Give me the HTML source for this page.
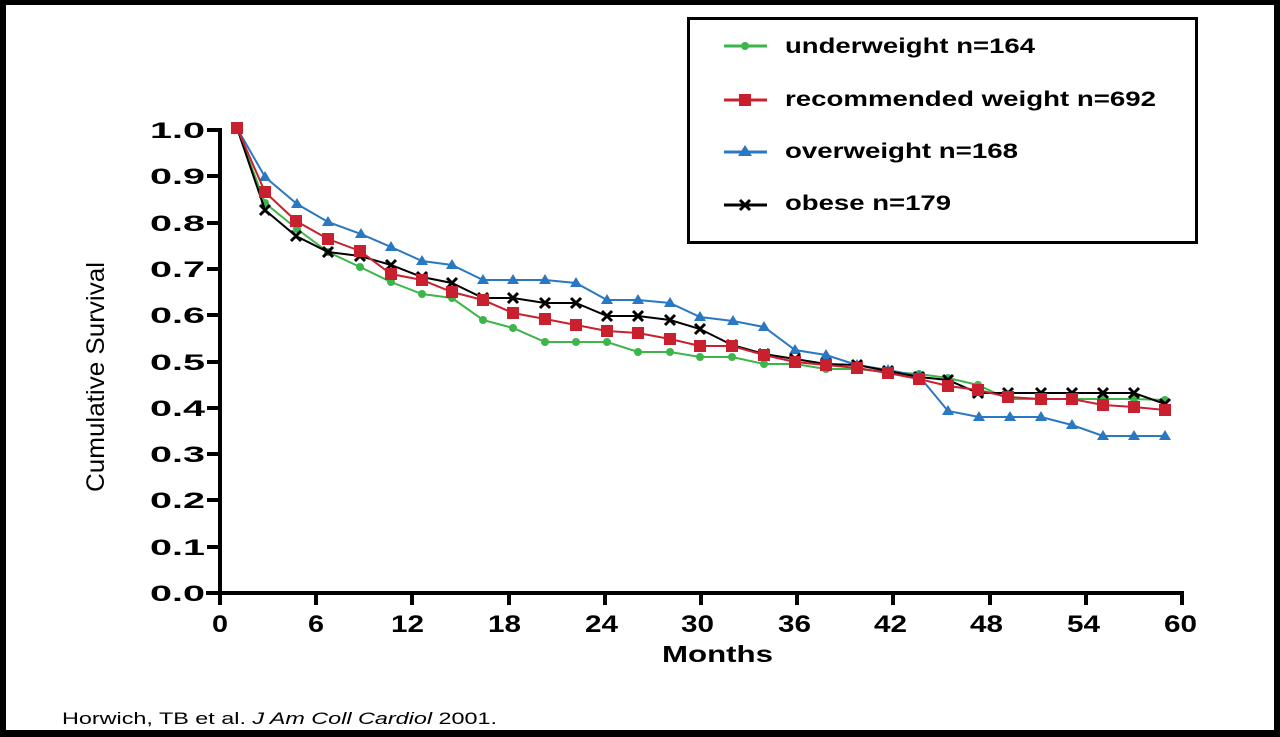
<!DOCTYPE html>
<html><head><meta charset="utf-8"><style>
html,body{margin:0;padding:0;background:#000;}
svg{display:block;}
text{font-family:"Liberation Sans",Arial,sans-serif;}
</style></head><body>
<svg width="1280" height="737" viewBox="0 0 1280 737" xmlns="http://www.w3.org/2000/svg">
<rect x="0" y="0" width="1280" height="737" fill="#000"/>
<rect x="6" y="5" width="1268" height="725" fill="#fff"/>

<g stroke="#000" stroke-width="4" fill="none">
<line x1="220" y1="128" x2="220" y2="595"/>
<line x1="206" y1="593" x2="1184" y2="593"/>
</g>
<g stroke="#000" stroke-width="4">
<line x1="207" y1="130" x2="220" y2="130"/>
<line x1="207" y1="176" x2="220" y2="176"/>
<line x1="207" y1="223" x2="220" y2="223"/>
<line x1="207" y1="269" x2="220" y2="269"/>
<line x1="207" y1="315" x2="220" y2="315"/>
<line x1="207" y1="362" x2="220" y2="362"/>
<line x1="207" y1="408" x2="220" y2="408"/>
<line x1="207" y1="454" x2="220" y2="454"/>
<line x1="207" y1="500" x2="220" y2="500"/>
<line x1="207" y1="547" x2="220" y2="547"/>
<line x1="220" y1="593" x2="220" y2="605"/>
<line x1="316" y1="593" x2="316" y2="605"/>
<line x1="412" y1="593" x2="412" y2="605"/>
<line x1="509" y1="593" x2="509" y2="605"/>
<line x1="605" y1="593" x2="605" y2="605"/>
<line x1="701" y1="593" x2="701" y2="605"/>
<line x1="797" y1="593" x2="797" y2="605"/>
<line x1="893" y1="593" x2="893" y2="605"/>
<line x1="990" y1="593" x2="990" y2="605"/>
<line x1="1086" y1="593" x2="1086" y2="605"/>
<line x1="1182" y1="593" x2="1182" y2="605"/>
</g>

<g font-weight="bold" font-size="22" fill="#000">
<text x="150" y="138" textLength="55" lengthAdjust="spacingAndGlyphs">1.0</text>
<text x="150" y="184" textLength="55" lengthAdjust="spacingAndGlyphs">0.9</text>
<text x="150" y="231" textLength="55" lengthAdjust="spacingAndGlyphs">0.8</text>
<text x="150" y="277" textLength="55" lengthAdjust="spacingAndGlyphs">0.7</text>
<text x="150" y="323" textLength="55" lengthAdjust="spacingAndGlyphs">0.6</text>
<text x="150" y="370" textLength="55" lengthAdjust="spacingAndGlyphs">0.5</text>
<text x="150" y="416" textLength="55" lengthAdjust="spacingAndGlyphs">0.4</text>
<text x="150" y="462" textLength="55" lengthAdjust="spacingAndGlyphs">0.3</text>
<text x="150" y="508" textLength="55" lengthAdjust="spacingAndGlyphs">0.2</text>
<text x="150" y="555" textLength="55" lengthAdjust="spacingAndGlyphs">0.1</text>
<text x="150" y="601" textLength="55" lengthAdjust="spacingAndGlyphs">0.0</text>
</g>
<g font-weight="bold" font-size="24" fill="#000">
<text x="212" y="632" textLength="16" lengthAdjust="spacingAndGlyphs">0</text>
<text x="308" y="632" textLength="16" lengthAdjust="spacingAndGlyphs">6</text>
<text x="391" y="632" textLength="33" lengthAdjust="spacingAndGlyphs">12</text>
<text x="488" y="632" textLength="33" lengthAdjust="spacingAndGlyphs">18</text>
<text x="585" y="632" textLength="33" lengthAdjust="spacingAndGlyphs">24</text>
<text x="681" y="632" textLength="33" lengthAdjust="spacingAndGlyphs">30</text>
<text x="778" y="632" textLength="33" lengthAdjust="spacingAndGlyphs">36</text>
<text x="874" y="632" textLength="33" lengthAdjust="spacingAndGlyphs">42</text>
<text x="970" y="632" textLength="33" lengthAdjust="spacingAndGlyphs">48</text>
<text x="1067" y="632" textLength="33" lengthAdjust="spacingAndGlyphs">54</text>
<text x="1164" y="632" textLength="33" lengthAdjust="spacingAndGlyphs">60</text>
</g>
<text x="662" y="662" font-weight="bold" font-size="23" textLength="111" lengthAdjust="spacingAndGlyphs">Months</text>
<text transform="translate(104,492) rotate(-90)" font-size="25" textLength="230" lengthAdjust="spacingAndGlyphs">Cumulative Survival</text>
<text x="62" y="724" font-size="17" textLength="435" lengthAdjust="spacingAndGlyphs">Horwich, TB et al. <tspan font-style="italic">J Am Coll Cardiol</tspan> 2001.</text>

<polyline fill="none" stroke="#3cb54a" stroke-width="2" points="237,128 265,203 297,229 328,252 360,267 391,282 422,294 452,298 483,320 513,328 545,342 576,342 607,342 638,352 670,352 700,357 732,357 764,364 795,364 826,369 857,369 888,372 919,374 948,378 978,385 1008,399 1041,399 1072,399 1103,399 1134,399 1165,400"/>
<g fill="#3cb54a">
<circle cx="265" cy="203" r="4"/><circle cx="297" cy="229" r="4"/><circle cx="328" cy="252" r="4"/><circle cx="360" cy="267" r="4"/><circle cx="391" cy="282" r="4"/><circle cx="422" cy="294" r="4"/><circle cx="452" cy="298" r="4"/><circle cx="483" cy="320" r="4"/><circle cx="513" cy="328" r="4"/><circle cx="545" cy="342" r="4"/><circle cx="576" cy="342" r="4"/><circle cx="607" cy="342" r="4"/><circle cx="638" cy="352" r="4"/><circle cx="670" cy="352" r="4"/><circle cx="700" cy="357" r="4"/><circle cx="732" cy="357" r="4"/><circle cx="764" cy="364" r="4"/><circle cx="795" cy="364" r="4"/><circle cx="826" cy="369" r="4"/><circle cx="857" cy="369" r="4"/><circle cx="888" cy="372" r="4"/><circle cx="919" cy="374" r="4"/><circle cx="948" cy="378" r="4"/><circle cx="978" cy="385" r="4"/><circle cx="1008" cy="399" r="4"/><circle cx="1041" cy="399" r="4"/><circle cx="1072" cy="399" r="4"/><circle cx="1103" cy="399" r="4"/><circle cx="1134" cy="399" r="4"/><circle cx="1165" cy="400" r="4"/>
</g>

<polyline fill="none" stroke="#2a78c2" stroke-width="2" points="237,128 265,177 297,204 328,222 361,234 391,247 422,261 452,265 483,280 513,280 545,280 576,283 607,300 638,300 670,303 700,317 733,321 764,327 795,350 826,355 857,365 888,370 919,376 948,411 979,417 1010,417 1041,417 1072,425 1103,436 1134,436 1165,436"/>
<g fill="#2a78c2">
<path d="M265,171l6,10h-12z M297,198l6,10h-12z M328,216l6,10h-12z M361,228l6,10h-12z M391,241l6,10h-12z M422,255l6,10h-12z M452,259l6,10h-12z M483,274l6,10h-12z M513,274l6,10h-12z M545,274l6,10h-12z M576,277l6,10h-12z M607,294l6,10h-12z M638,294l6,10h-12z M670,297l6,10h-12z M700,311l6,10h-12z M733,315l6,10h-12z M764,321l6,10h-12z M795,344l6,10h-12z M826,349l6,10h-12z M857,359l6,10h-12z M888,364l6,10h-12z M919,370l6,10h-12z M948,405l6,10h-12z M979,411l6,10h-12z M1010,411l6,10h-12z M1041,411l6,10h-12z M1072,419l6,10h-12z M1103,430l6,10h-12z M1134,430l6,10h-12z M1165,430l6,10h-12z"/>
</g>

<polyline fill="none" stroke="#000" stroke-width="2" points="237,128 265,210 296,236 328,252 360,256 391,265 422,277 452,283 483,298 513,298 545,303 576,303 607,316 638,316 670,320 700,329 732,345 764,354 795,359 826,364 857,365 888,371 919,377 948,380 978,393 1008,393 1041,393 1072,393 1103,393 1134,393 1165,404"/>
<g stroke="#000" stroke-width="3">
<path d="M260,205l10,10m0,-10l-10,10 M291,231l10,10m0,-10l-10,10 M323,247l10,10m0,-10l-10,10 M355,251l10,10m0,-10l-10,10 M386,260l10,10m0,-10l-10,10 M417,272l10,10m0,-10l-10,10 M447,278l10,10m0,-10l-10,10 M478,293l10,10m0,-10l-10,10 M508,293l10,10m0,-10l-10,10 M540,298l10,10m0,-10l-10,10 M571,298l10,10m0,-10l-10,10 M602,311l10,10m0,-10l-10,10 M633,311l10,10m0,-10l-10,10 M665,315l10,10m0,-10l-10,10 M695,324l10,10m0,-10l-10,10 M727,340l10,10m0,-10l-10,10 M759,349l10,10m0,-10l-10,10 M790,354l10,10m0,-10l-10,10 M821,359l10,10m0,-10l-10,10 M852,360l10,10m0,-10l-10,10 M883,366l10,10m0,-10l-10,10 M914,372l10,10m0,-10l-10,10 M943,375l10,10m0,-10l-10,10 M973,388l10,10m0,-10l-10,10 M1003,388l10,10m0,-10l-10,10 M1036,388l10,10m0,-10l-10,10 M1067,388l10,10m0,-10l-10,10 M1098,388l10,10m0,-10l-10,10 M1129,388l10,10m0,-10l-10,10 M1160,399l10,10m0,-10l-10,10"/>
</g>

<polyline fill="none" stroke="#c8202f" stroke-width="2" points="237,128 265,192 296,221 328,239 360,251 391,274 422,280 452,292 483,300 513,313 545,319 576,325 607,331 638,333 670,339 700,346 732,346 764,355 795,362 826,365 857,368 888,373 919,379 948,386 978,390 1008,397 1041,399 1072,399 1103,405 1134,407 1165,410"/>
<g fill="#c8202f">
<rect x="231" y="122" width="12" height="12"/><rect x="259" y="186" width="12" height="12"/><rect x="290" y="215" width="12" height="12"/><rect x="322" y="233" width="12" height="12"/><rect x="354" y="245" width="12" height="12"/><rect x="385" y="268" width="12" height="12"/><rect x="416" y="274" width="12" height="12"/><rect x="446" y="286" width="12" height="12"/><rect x="477" y="294" width="12" height="12"/><rect x="507" y="307" width="12" height="12"/><rect x="539" y="313" width="12" height="12"/><rect x="570" y="319" width="12" height="12"/><rect x="601" y="325" width="12" height="12"/><rect x="632" y="327" width="12" height="12"/><rect x="664" y="333" width="12" height="12"/><rect x="694" y="340" width="12" height="12"/><rect x="726" y="340" width="12" height="12"/><rect x="758" y="349" width="12" height="12"/><rect x="789" y="356" width="12" height="12"/><rect x="820" y="359" width="12" height="12"/><rect x="851" y="362" width="12" height="12"/><rect x="882" y="367" width="12" height="12"/><rect x="913" y="373" width="12" height="12"/><rect x="942" y="380" width="12" height="12"/><rect x="972" y="384" width="12" height="12"/><rect x="1002" y="391" width="12" height="12"/><rect x="1035" y="393" width="12" height="12"/><rect x="1066" y="393" width="12" height="12"/><rect x="1097" y="399" width="12" height="12"/><rect x="1128" y="401" width="12" height="12"/><rect x="1159" y="404" width="12" height="12"/>
</g>

<rect x="688.5" y="18.5" width="508" height="224" fill="#fff" stroke="#000" stroke-width="3"/>
<line x1="724" y1="46" x2="767" y2="46" stroke="#3cb54a" stroke-width="3"/><circle cx="745" cy="46" r="4" fill="#3cb54a"/>
<line x1="724" y1="100" x2="767" y2="100" stroke="#c8202f" stroke-width="3"/><rect x="739" y="94" width="12" height="12" fill="#c8202f"/>
<line x1="724" y1="152" x2="767" y2="152" stroke="#2a78c2" stroke-width="3"/><path d="M745,145l7,11h-14z" fill="#2a78c2"/>
<line x1="724" y1="205" x2="767" y2="205" stroke="#000" stroke-width="3"/><path d="M740,200l10,10m0,-10l-10,10" stroke="#000" stroke-width="3"/>
<g font-weight="bold" font-size="21" fill="#000">
<text x="785" y="53" textLength="250" lengthAdjust="spacingAndGlyphs">underweight n=164</text>
<text x="785" y="106" textLength="371" lengthAdjust="spacingAndGlyphs">recommended weight n=692</text>
<text x="785" y="158" textLength="233" lengthAdjust="spacingAndGlyphs">overweight n=168</text>
<text x="785" y="210" textLength="166" lengthAdjust="spacingAndGlyphs">obese n=179</text>
</g>
</svg>
</body></html>
